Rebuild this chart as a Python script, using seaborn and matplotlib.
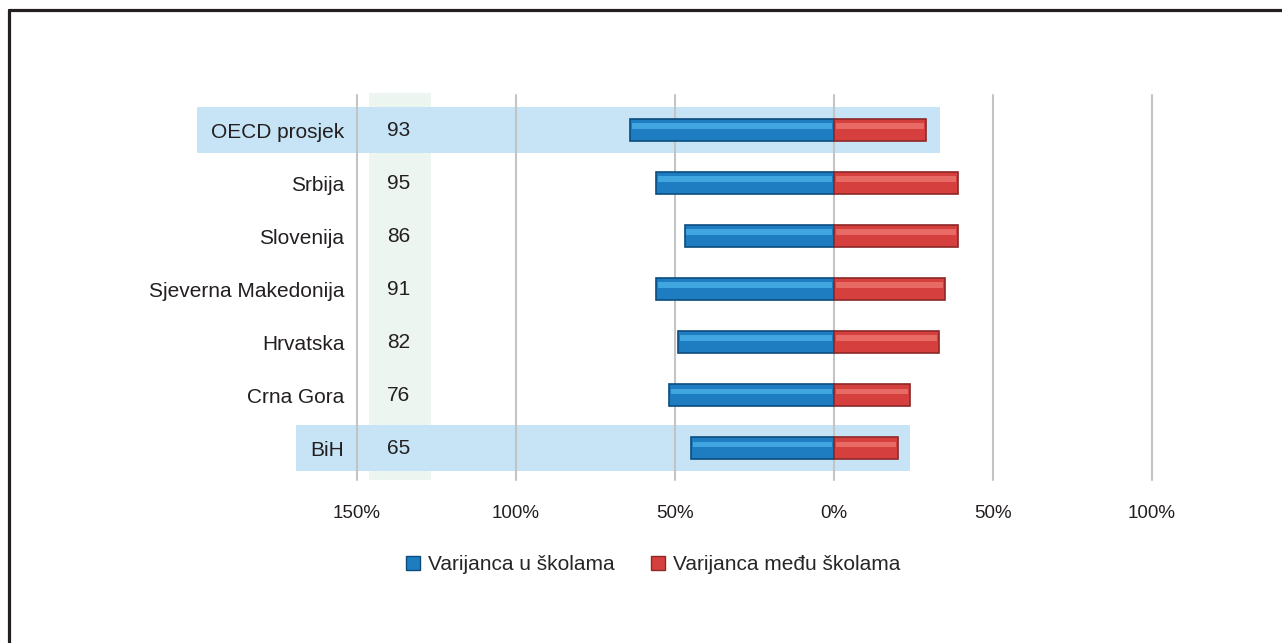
import matplotlib
matplotlib.use("Agg")
import matplotlib.pyplot as plt
from matplotlib.patches import Rectangle
from matplotlib.lines import Line2D
import pandas as pd
import seaborn as sns

# data
countries = ["OECD prosjek", "Srbija", "Slovenija", "Sjeverna Makedonija",
             "Hrvatska", "Crna Gora", "BiH"]
totals = [93, 95, 86, 91, 82, 76, 65]
within = [64, 56, 47, 56, 49, 52, 45]    # Varijanca u školama (left side)
between = [29, 39, 39, 35, 33, 24, 20]   # Varijanca među školama (right side)
tick_vals = [-150, -100, -50, 0, 50, 100]
tick_labels = ["150%", "100%", "50%", "0%", "50%", "100%"]
highlighted = ["OECD prosjek", "BiH"]

sns.set_theme(style="white")
plt.rcParams['font.family'] = ['Liberation Sans', 'DejaVu Sans']

blue = "#1E7DC0"
blue_edge = "#0B4C7D"
blue_light = "#4DB4EA"
red = "#D53F3D"
red_edge = "#8E2727"
red_light = "#EE7A72"

df = pd.DataFrame({
    "country": countries * 2,
    "value": [-v for v in within] + between,
    "kind": ["Varijanca u školama"] * len(countries) + ["Varijanca među školama"] * len(countries),
})

fig = plt.figure(figsize=(12.82, 6.43), dpi=100)
ax = fig.add_axes([357 / 1282, 1 - 480 / 643, (1152 - 357) / 1282, (480 - 95) / 643])

sns.barplot(data=df, x="value", y="country", hue="kind", order=countries,
            palette=[blue, red], saturation=1, dodge=False, width=0.42,
            orient="h", linewidth=1.2, legend=False, ax=ax, zorder=5)
for bar in ax.patches:
    bar.set_edgecolor(blue_edge if bar.get_width() < 0 else red_edge)

# lighter stripe in the upper part of each bar for a bevelled look
for i, c in enumerate(countries):
    ax.barh(i - 0.07, -within[i] + 1.2, height=0.11, left=-0.6, color=blue_light,
            alpha=0.75, zorder=6, linewidth=0)
    ax.barh(i - 0.07, between[i] - 1.2, height=0.11, left=0.6, color=red_light,
            alpha=0.75, zorder=6, linewidth=0)

ax.set_xlim(-150, 100)
ax.set_ylim(6.6, -0.66)

# column for the total values
ax.add_patch(Rectangle((-146.2, -0.7), 19.5, 7.3, facecolor="#EDF5F0",
                       edgecolor="none", zorder=0, clip_on=False))
# highlighted rows
band_extent = {"OECD prosjek": (-200.3, 33.3), "BiH": (-169.2, 24.0)}
for c in highlighted:
    i = countries.index(c)
    x0, x1 = band_extent[c]
    ax.add_patch(Rectangle((x0, i - 0.435), x1 - x0, 0.87, facecolor="#C6E4F5",
                           edgecolor="none", zorder=1, clip_on=False))

for x in tick_vals:
    ax.axvline(x, color="#C4C4C4", lw=1.5, zorder=2, clip_on=False)

for i, t in enumerate(totals):
    ax.text(-137, i, str(t), ha="center", va="center", fontsize=15,
            color="#231F20", zorder=7)

ax.set_xticks(tick_vals)
ax.set_xticklabels(tick_labels, fontsize=13.5, color="#231F20")
ax.set_yticks(range(len(countries)))
ax.set_yticklabels(countries, fontsize=15, color="#231F20")
ax.tick_params(axis="x", length=0, pad=18)
ax.tick_params(axis="y", length=0, pad=9)
ax.xaxis.set_zorder(8)
ax.yaxis.set_zorder(8)
ax.set_xlabel("")
ax.set_ylabel("")
for s in ax.spines.values():
    s.set_visible(False)
ax.grid(False)

handles = [Line2D([], [], marker="s", linestyle="none", markersize=10,
                  markerfacecolor=blue, markeredgecolor=blue_edge),
           Line2D([], [], marker="s", linestyle="none", markersize=10,
                  markerfacecolor=red, markeredgecolor=red_edge)]
fig.legend(handles, ["Varijanca u školama", "Varijanca među školama"],
           loc="center", bbox_to_anchor=(0.508, 1 - 565 / 643), ncol=2,
           frameon=False, fontsize=15, handletextpad=0.2, columnspacing=1.6,
           handlelength=1.0)

# frame lines (top and left only)
fig.add_artist(Line2D([0.0074, 1], [1 - 9.5 / 643] * 2, color="#231F20", lw=2.3,
                      transform=fig.transFigure))
fig.add_artist(Line2D([0.0074, 0.0074], [0, 1 - 9.5 / 643], color="#231F20", lw=2.3,
                      transform=fig.transFigure))

fig.savefig("out.png", dpi=100, facecolor="white")
